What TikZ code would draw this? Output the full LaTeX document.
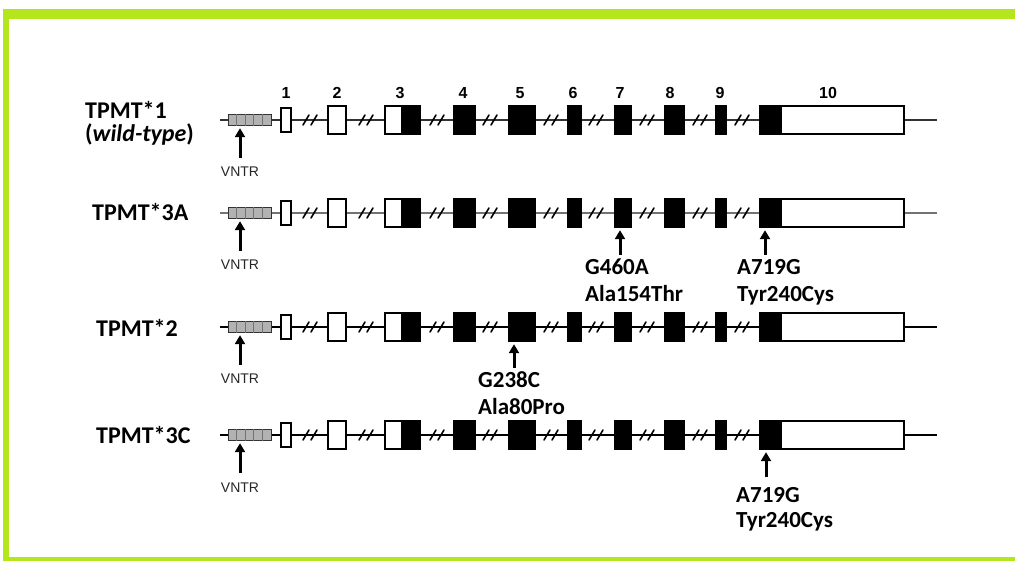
\documentclass[tikz,border=0pt]{standalone}
\usepackage{fontspec}
\newfontfamily\carlito{Carlito}
\newfontfamily\arialish{Liberation Sans}
\usetikzlibrary{arrows.meta,calc}

\definecolor{framegreen}{RGB}{181,230,29}

\tikzset{
  exon/.style={draw=black, line width=2.4pt, minimum height=28pt, inner sep=0pt},
  vntrbox/.style={draw=black!80, fill=black!30, line width=1.4pt, minimum width=43pt, minimum height=11pt, inner sep=0pt},
  rowlabel/.style={anchor=base west, inner sep=0pt, font=\carlito\bfseries\fontsize{24}{28}\selectfont},
  mutlabel/.style={anchor=base west, inner sep=0pt, font=\carlito\bfseries\fontsize{23}{27}\selectfont},
  exnum/.style={anchor=south, inner sep=0pt, font=\arialish\bfseries\fontsize{16}{18}\selectfont},
  vntrlabel/.style={anchor=base, inner sep=0pt, text=black!85, font=\arialish\fontsize{14}{16}\selectfont},
  mutarrow/.style={-{Triangle[length=9pt,width=10pt]}, line width=3pt, shorten >=2pt},
  brk/.style={line width=1.6pt, line cap=round},
}

\begin{document}
\begin{tikzpicture}[x=1pt,y=-1pt]

% ---------- Parameter ----------
\def\xstart{220}
\def\xend{937}

% Gesamt-Boundingbox festlegen
\useasboundingbox (0,0) rectangle (1015,561);

% ---------- Rahmen ----------
\fill[framegreen] (3,9) rectangle (1015,19);
\fill[framegreen] (3,9) rectangle (9,561);
\fill[framegreen] (3,557) rectangle (1015,561);

% ===================
% Genzeilen (Exons 1-10)
% ===================
\foreach \y/\r/\lw/\lc in {120/r1/1.8/black!80, 213/r2/1.4/black!55, 327/r3/2.4/black, 435/r4/2.4/black}{
  \draw[draw=\lc, line width=\lw pt] (\xstart,\y) -- (\xend,\y);

  % VNTR-Block
  \node[vntrbox] (vntr-\r) at (250,\y) {};
  \foreach \k in {1,...,4}
    \draw[black!55, line width=0.8pt] ($(vntr-\r.north west)+(\k*8.6,0)$) -- ($(vntr-\r.south west)+(\k*8.6,0)$);
  \coordinate (vt-\r) at (240,\y+38);
  \draw[mutarrow] (vt-\r) -- (vt-\r |- vntr-\r.south);
  \node[vntrlabel] (vl-\r) at (240,\y+57) {VNTR};

  % Exons
  \foreach \n/\xc/\w/\h/\f in {1/286/12/24/white, 2/337/20/28/white, 4/464.5/23/28/black,
      5/522/28/28/black, 6/574.5/15/28/black, 7/623/18/28/black, 8/674.5/21/28/black, 9/721/12/28/black}
    \node[exon, fill=\f, minimum width={(\w-2)*1pt}, minimum height=\h pt] (e\n-\r) at (\xc,\y) {};
  \node[exon, fill=white, minimum width=35pt,
    path picture={\fill[black] ([xshift=16pt]path picture bounding box.north west) rectangle (path picture bounding box.south east);}]
    (e3-\r) at (402.5,\y) {};
  \node[exon, fill=white, minimum width=144pt,
    path picture={\fill[black] (path picture bounding box.north west) rectangle ([xshift=22pt]path picture bounding box.south west);}]
    (e10-\r) at (832,\y) {};

  % Unterbrechungen //
  \foreach \b in {310,366,437,490,551,596,647,700,742}
    \draw[brk] (\b-7,\y+5) -- (\b-1,\y-5) (\b+1,\y+5) -- (\b+7,\y-5);
}

% Exon-Nummern
\foreach \n/\lx in {1/286,2/337,3/400,4/463,5/520,6/573,7/620,8/670,9/720,10/828}
  \node[exnum] (num\n) at (\lx,99) {\n};

% ---------- Allel-Namen ----------
\node[rowlabel] (lab1)  at (85,119) {TPMT*1};
\node[rowlabel] (lab1b) at (85,142) {(\textit{wild-type})};
\node[rowlabel] (lab2)  at (92,221) {TPMT*3A};
\node[rowlabel] (lab3)  at (96,337) {TPMT*2};
\node[rowlabel] (lab4)  at (96,443) {TPMT*3C};

% ---------- Mutationen ----------
% TPMT*3A
\coordinate (m7-r2) at (620,255);
\draw[mutarrow] (m7-r2) -- (m7-r2 |- e7-r2.south);
\node[mutlabel] (g460a)  at (585,275) {G460A};
\node[mutlabel] (ala154) at (585,302) {Ala154Thr};
\coordinate (m10-r2) at (765,255);
\draw[mutarrow] (m10-r2) -- (m10-r2 |- e10-r2.south);
\node[mutlabel] (a719g-r2)  at (737,275) {A719G};
\node[mutlabel] (tyr240-r2) at (737,302) {Tyr240Cys};

% TPMT*2
\coordinate (m5-r3) at (514,368);
\draw[mutarrow] (m5-r3) -- (m5-r3 |- e5-r3.south);
\node[mutlabel] (g238c) at (478,388) {G238C};
\node[mutlabel] (ala80) at (478,414) {Ala80Pro};

% TPMT*3C
\coordinate (m10-r4) at (766,477);
\draw[mutarrow] (m10-r4) -- (m10-r4 |- e10-r4.south);
\node[mutlabel] (a719g-r4)  at (736,502) {A719G};
\node[mutlabel] (tyr240-r4) at (736,527) {Tyr240Cys};

\end{tikzpicture}
\end{document}
